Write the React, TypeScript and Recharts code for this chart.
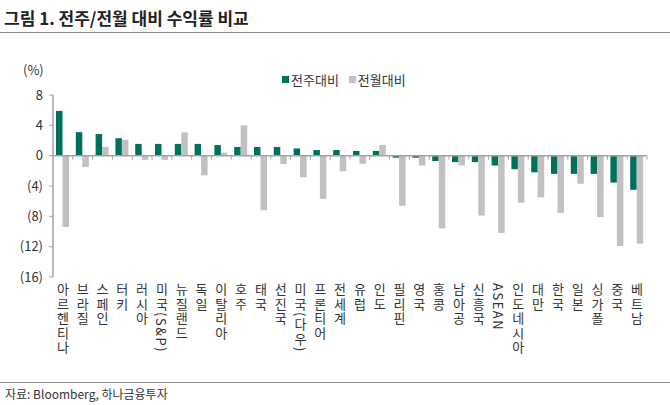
import { BarChart, Bar, XAxis, YAxis, ReferenceLine } from "recharts";

const countries = [
  "아르헨티나", "브라질", "스페인", "터키", "러시아", "미국(S&P)", "뉴질랜드", "독일",
  "이탈리아", "호주", "태국", "선진국", "미국(다우)", "프론티어", "전세계", "유럽",
  "인도", "필리핀", "영국", "홍콩", "남아공", "신흥국", "ASEAN", "인도네시아",
  "대만", "한국", "일본", "싱가폴", "중국", "베트남",
];

// 전주대비 (%)
const weekly = [
  5.9, 3.1, 2.85, 2.3, 1.55, 1.55, 1.55, 1.55, 1.4, 1.15, 1.15, 1.15, 0.95, 0.75, 0.75,
  0.62, 0.62, -0.27, -0.27, -0.7, -0.85, -0.85, -1.3, -1.8, -2.2, -2.4, -2.4, -2.4, -3.55, -4.5,
];

// 전월대비 (%)
const monthly = [
  -9.4, -1.5, 1.15, 2.1, -0.55, -0.55, 3.07, -2.6, 0.4, 4.0, -7.2, -1.1, -2.85, -5.7, -2.05,
  -1.07, 1.42, -6.6, -1.3, -9.6, -1.3, -7.9, -10.2, -6.2, -5.5, -7.55, -3.7, -8.1, -11.9, -11.6,
];

const yTicks = [8, 4, 0, -4, -8, -12, -16];

const legendItems = [
  { label: "전주대비", key: "weekly" },
  { label: "전월대비", key: "monthly" },
];

const data = countries.map((name, i) => ({ name, weekly: weekly[i], monthly: monthly[i] }));

const GREEN = "#00705d";
const GRAY = "#c1c1c1";
const AXIS = "#a3a3a3";
const TEXT = "#333";
const FONT = "'Noto Sans CJK KR', 'Noto Sans', sans-serif";
const colors: Record<string, string> = { weekly: GREEN, monthly: GRAY };

function VerticalTick({ x, y, payload }: any) {
  return (
    <text
      x={x}
      y={y + 6}
      fontSize={13}
      fill={TEXT}
      fontFamily={FONT}
      style={{ writingMode: "vertical-rl", letterSpacing: 1.5 }}
    >
      {payload.value}
    </text>
  );
}

function ZeroLine(props: any) {
  const { x1, x2, y1 } = props;
  const step = (x2 - x1) / countries.length;
  const marks = countries.map((_, i) => {
    const x = x1 + step * (i + 1);
    return <line key={i} x1={x} x2={x} y1={y1} y2={y1 + 4} stroke={AXIS} />;
  });
  return (
    <g>
      <line x1={x1} x2={x2} y1={y1} y2={y1} stroke={AXIS} strokeWidth={1.5} />
      {marks}
    </g>
  );
}

export default function App() {
  return (
    <div
      style={{
        position: "absolute",
        left: 0,
        top: 0,
        width: 670,
        height: 405,
        background: "#fff",
        fontFamily: FONT,
        overflow: "hidden",
      }}
    >
      <div style={{ position: "absolute", left: 4, top: 5, fontSize: 17, fontWeight: 700, color: "#222" }}>
        그림 1. 전주/전월 대비 수익률 비교
      </div>
      <div style={{ position: "absolute", left: 0, top: 32, width: 670, height: 1, background: "#8c8c8c" }} />
      <div style={{ position: "absolute", left: 23, top: 60, fontSize: 13, color: TEXT }}>(%)</div>

      <div
        style={{
          position: "absolute",
          left: 282,
          top: 70,
          display: "flex",
          fontSize: 13,
          color: TEXT,
        }}
      >
        {legendItems.map((it) => (
          <div key={it.key} style={{ display: "flex", alignItems: "center", marginRight: 10 }}>
            <span style={{ width: 7, height: 7, background: colors[it.key], marginRight: 2 }} />
            <span>{it.label}</span>
          </div>
        ))}
      </div>

      <div style={{ position: "absolute", left: 0, top: 0 }}>
        <BarChart
          width={670}
          height={385}
          data={data}
          margin={{ top: 95, right: 23, left: 0, bottom: 0 }}
          barSize={6.5}
          barGap={0}
        >
          <YAxis
            width={53}
            domain={[-16, 8]}
            ticks={yTicks}
            interval={0}
            tickFormatter={(v: number) => (v < 0 ? `(${Math.abs(v)})` : `${v}`)}
            tick={{ fontSize: 13, fill: TEXT, fontFamily: FONT }}
            axisLine={{ stroke: AXIS, strokeWidth: 1.5 }}
            tickLine={{ stroke: AXIS }}
            tickSize={4}
            tickMargin={6}
          />
          <XAxis
            dataKey="name"
            height={108}
            interval={0}
            axisLine={false}
            tickLine={false}
            tickSize={0}
            tickMargin={0}
            tick={<VerticalTick />}
          />
          <Bar dataKey="weekly" name="전주대비" fill={GREEN} isAnimationActive={false} />
          <Bar dataKey="monthly" name="전월대비" fill={GRAY} isAnimationActive={false} />
          <ReferenceLine y={0} shape={<ZeroLine />} />
        </BarChart>
      </div>

      <div style={{ position: "absolute", left: 0, top: 382, width: 670, height: 1, background: "#8c8c8c" }} />
      <div style={{ position: "absolute", left: 5, top: 385, fontSize: 12, color: TEXT }}>
        자료: Bloomberg, 하나금융투자
      </div>
    </div>
  );
}
